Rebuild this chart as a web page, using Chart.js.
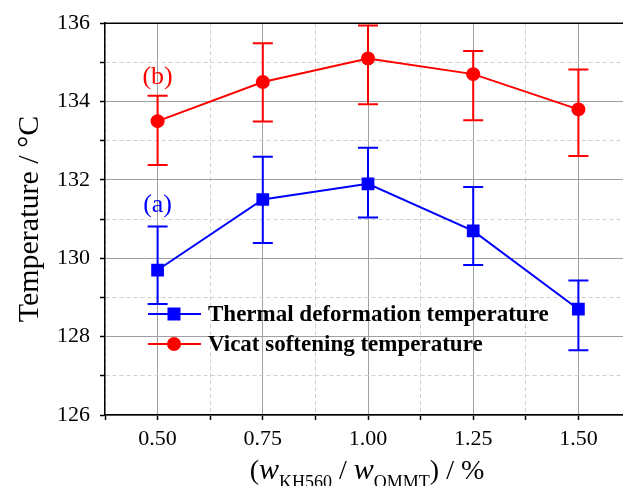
<!DOCTYPE html>
<html>
<head>
<meta charset="utf-8">
<script src="https://cdn.jsdelivr.net/npm/chart.js@4.4.0/dist/chart.umd.min.js"></script>
<style>
html, body { margin: 0; padding: 0; background: #fff; overflow: hidden; }
#wrap { width: 640px; height: 486px; }
</style>
</head>
<body>
<div id="wrap"><canvas id="chart"></canvas></div>
<script>
// mass ratio w(KH560)/w(OMMT), %
const ratios = [0.50, 0.75, 1.00, 1.25, 1.50];

// thermal deformation temperature (a)
const thermalTemp = [129.7, 131.5, 131.9, 130.7, 128.7];
const thermalHigh = [130.81, 132.59, 132.82, 131.82, 129.43];
const thermalLow = [128.83, 130.39, 131.04, 129.83, 127.65];

// vicat softening temperature (b)
const vicatTemp = [133.5, 134.5, 135.1, 134.7, 133.8];
const vicatHigh = [134.15, 135.49, 135.94, 135.29, 134.82];
const vicatLow = [132.38, 133.49, 133.93, 133.52, 132.61];

const seriesNames = ['Thermal deformation temperature', 'Vicat softening temperature'];
const xTicks = [0.50, 0.75, 1.00, 1.25, 1.50];
const yTicks = [126, 128, 130, 132, 134, 136];

const SERIF = '"Liberation Serif", "Times New Roman", serif';
const BLUE = '#0000ff';
const RED = '#ff0000';

function isMajorX(v) {
    return xTicks.some(t => Math.abs(t - v) < 1e-6);
}
function isMajorY(v) {
    return yTicks.some(t => Math.abs(t - v) < 1e-6);
}

const errorBars = {
    id: 'errorBars',
    beforeDatasetsDraw(chart) {
        const ctx = chart.ctx;
        const xs = chart.scales.x, ys = chart.scales.y;
        chart.data.datasets.forEach(ds => {
            ctx.save();
            ctx.strokeStyle = ds.borderColor;
            ctx.lineWidth = 2;
            ds.data.forEach((p, i) => {
                const x = xs.getPixelForValue(p.x);
                const yh = ys.getPixelForValue(ds.errHigh[i]);
                const yl = ys.getPixelForValue(ds.errLow[i]);
                ctx.beginPath();
                ctx.moveTo(x, yh); ctx.lineTo(x, yl);
                ctx.moveTo(x - 10, yh); ctx.lineTo(x + 10, yh);
                ctx.moveTo(x - 10, yl); ctx.lineTo(x + 10, yl);
                ctx.stroke();
            });
            ctx.restore();
        });
    }
};

const extras = {
    id: 'extras',
    afterDraw(chart) {
        const ctx = chart.ctx;
        const area = chart.chartArea;
        const xs = chart.scales.x, ys = chart.scales.y;
        ctx.save();

        // top frame
        ctx.strokeStyle = '#000';
        ctx.lineWidth = 1.5;
        ctx.beginPath();
        ctx.moveTo(area.left, area.top);
        ctx.lineTo(area.right, area.top);
        ctx.stroke();

        // (a) and (b) labels
        ctx.textAlign = 'center';
        ctx.textBaseline = 'middle';
        ctx.font = '26px ' + SERIF;
        ctx.fillStyle = RED;
        ctx.fillText('(b)', xs.getPixelForValue(0.5), ys.getPixelForValue(134.62));
        ctx.fillStyle = BLUE;
        ctx.fillText('(a)', xs.getPixelForValue(0.5), ys.getPixelForValue(131.36));

        // legend
        const rows = [
            { ds: chart.data.datasets[0], y: 314 },
            { ds: chart.data.datasets[1], y: 344 }
        ];
        rows.forEach(r => {
            ctx.strokeStyle = r.ds.borderColor;
            ctx.fillStyle = r.ds.borderColor;
            ctx.lineWidth = 2;
            ctx.beginPath();
            ctx.moveTo(148, r.y); ctx.lineTo(201, r.y);
            ctx.stroke();
            if (r.ds.pointStyle === 'rect') {
                ctx.fillRect(174 - 6.5, r.y - 6.5, 13, 13);
            } else {
                ctx.beginPath();
                ctx.arc(174, r.y, 7, 0, Math.PI * 2);
                ctx.fill();
            }
            ctx.fillStyle = '#000';
            ctx.font = 'bold 23px ' + SERIF;
            ctx.textAlign = 'left';
            ctx.textBaseline = 'middle';
            ctx.fillText(r.ds.label, 208, r.y + 1);
        });

        // x axis title with subscripts
        const parts = [
            { t: '(', f: '28px ' + SERIF, dy: 0 },
            { t: 'w', f: 'italic 30px ' + SERIF, dy: 0 },
            { t: 'KH560', f: '18px ' + SERIF, dy: 9 },
            { t: ' / ', f: '28px ' + SERIF, dy: 0 },
            { t: 'w', f: 'italic 30px ' + SERIF, dy: 0 },
            { t: 'OMMT', f: '18px ' + SERIF, dy: 9 },
            { t: ') / %', f: '28px ' + SERIF, dy: 0 }
        ];
        let total = 0;
        parts.forEach(p => { ctx.font = p.f; p.w = ctx.measureText(p.t).width; total += p.w; });
        let x = 367 - total / 2;
        const base = 479;
        ctx.textAlign = 'left';
        ctx.textBaseline = 'alphabetic';
        ctx.fillStyle = '#000';
        parts.forEach(p => {
            ctx.font = p.f;
            ctx.fillText(p.t, x, base + p.dy);
            x += p.w;
        });

        ctx.restore();
    }
};

const ctx = document.getElementById('chart').getContext('2d');
const myChart = new Chart(ctx, {
    type: 'line',
    data: {
        datasets: [
            {
                label: seriesNames[0],
                data: ratios.map((r, i) => ({ x: r, y: thermalTemp[i] })),
                errHigh: thermalHigh,
                errLow: thermalLow,
                borderColor: BLUE,
                backgroundColor: BLUE,
                borderWidth: 2,
                pointStyle: 'rect',
                pointRadius: 9,
                pointBorderWidth: 0,
                tension: 0
            },
            {
                label: seriesNames[1],
                data: ratios.map((r, i) => ({ x: r, y: vicatTemp[i] })),
                errHigh: vicatHigh,
                errLow: vicatLow,
                borderColor: RED,
                backgroundColor: RED,
                borderWidth: 2,
                pointStyle: 'circle',
                pointRadius: 7,
                pointBorderWidth: 0,
                tension: 0
            }
        ]
    },
    options: {
        responsive: true,
        maintainAspectRatio: false,
        animation: false,
        layout: { padding: { top: 21, right: 8, left: 0, bottom: 0 } },
        plugins: {
            legend: { display: false },
            tooltip: { enabled: false }
        },
        scales: {
            x: {
                type: 'linear',
                min: 0.375,
                max: 1.625,
                afterFit: s => { s.height = 71; },
                afterBuildTicks: s => {
                    const t = [];
                    for (let k = 0; k <= 10; k++) t.push({ value: 0.375 + k * 0.125 });
                    s.ticks = t;
                },
                ticks: {
                    autoSkip: false,
                    maxRotation: 0,
                    padding: 6,
                    color: '#000',
                    font: { family: SERIF, size: 22 },
                    callback: v => isMajorX(v) ? v.toFixed(2) : ''
                },
                grid: {
                    color: c => c.tick && isMajorX(c.tick.value) ? '#a0a0a0' : '#cfcfcf',
                    lineWidth: 1,
                    tickColor: '#000',
                    tickLength: 5,
                    tickWidth: 1.5
                },
                border: {
                    color: '#000',
                    width: 1.5,
                    dash: c => c.tick && !isMajorX(c.tick.value) ? [4, 3] : []
                }
            },
            y: {
                min: 126,
                max: 136,
                afterFit: s => { s.width = 105; },
                ticks: {
                    stepSize: 1,
                    autoSkip: false,
                    padding: 10,
                    color: '#000',
                    font: { family: SERIF, size: 22 },
                    callback: v => isMajorY(v) ? String(v) : ''
                },
                grid: {
                    color: c => c.tick && isMajorY(c.tick.value) ? '#a0a0a0' : '#cfcfcf',
                    lineWidth: 1,
                    tickColor: '#000',
                    tickLength: 5,
                    tickWidth: 1.5
                },
                border: {
                    color: '#000',
                    width: 1.5,
                    dash: c => c.tick && !isMajorY(c.tick.value) ? [4, 3] : []
                },
                title: {
                    display: true,
                    text: 'Temperature / °C',
                    color: '#000',
                    font: { family: SERIF, size: 30 },
                    padding: { top: 12, bottom: 0 }
                }
            }
        }
    },
    plugins: [errorBars, extras]
});
</script>
</body>
</html>
